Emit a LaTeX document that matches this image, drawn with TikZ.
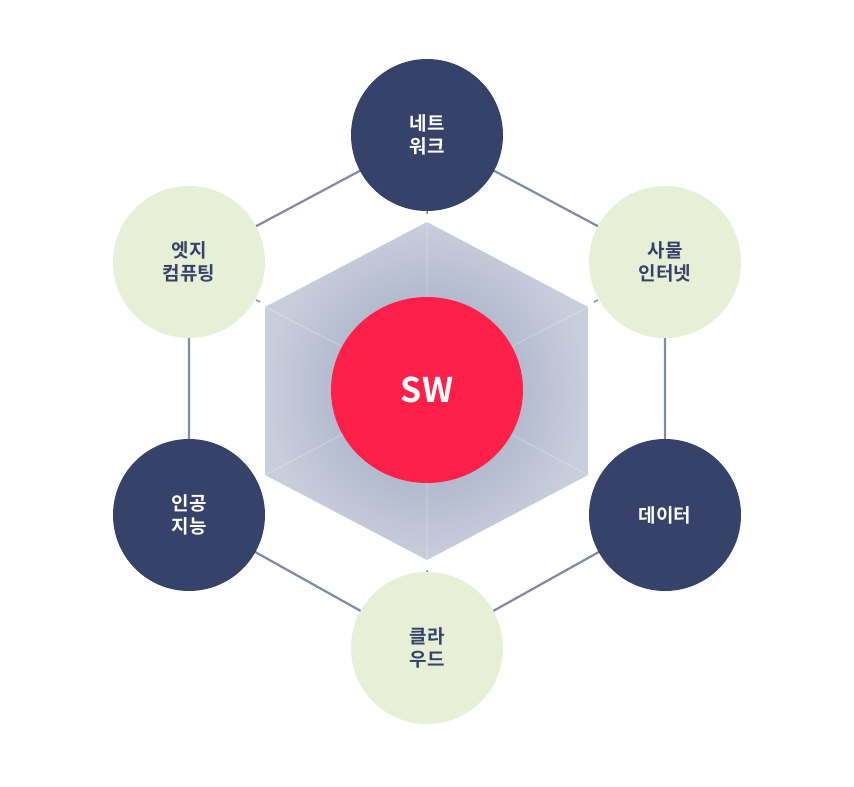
\documentclass[tikz,border=0pt]{standalone}
\usepackage{fontspec}
\usetikzlibrary{shapes.geometric,backgrounds}
\newfontfamily\kr{Noto Sans CJK KR}[BoldFont={Noto Sans CJK KR Bold}]
\begin{document}
\begin{tikzpicture}[x=1pt,y=-1pt,
  dark/.style={circle,fill=navy,minimum size=152pt,text=white,font=\kr\bfseries\fontsize{19}{23}\selectfont,align=center},
  light/.style={circle,fill=lgreen,minimum size=152pt,text=navy,font=\kr\bfseries\fontsize{19}{23}\selectfont,align=center},
  link/.style={draw=linkc,line width=2.2pt}]
\definecolor{navy}{HTML}{36426A}
\definecolor{lgreen}{HTML}{E7F0D6}
\definecolor{swred}{HTML}{FF2049}
\definecolor{linkc}{HTML}{7F89A8}
\definecolor{hexo}{HTML}{C9CEDD}
\definecolor{hexi}{HTML}{98A1BC}
\useasboundingbox (0,0) rectangle (854,787);
\coordinate (h1) at (427,222); \coordinate (h2) at (588,307); \coordinate (h3) at (588,475);
\coordinate (h4) at (427,560); \coordinate (h5) at (265,475); \coordinate (h6) at (265,307);
\coordinate (hc) at (427,390);
\path[inner color=hexi,outer color=hexo] (h1)--(h2)--(h3)--(h4)--(h5)--(h6)--cycle;
\draw[white,opacity=0.25,line width=1pt] (hc)--(h1) (hc)--(h3) (hc)--(h5) (h2)--(hc) (h4)--(hc) (h6)--(hc);
\draw[linkc,line width=1.5pt] (427,208)--(427,214) (598,300)--(594,302) (256,300)--(260,302) (427,570)--(427,576);
\node[dark] (n1) at (427,135) {네트\\워크};
\node[light] (n2) at (665,262) {사물\\인터넷};
\node[dark] (n3) at (665,515) {데이터};
\node[light] (n4) at (427,648) {클라\\우드};
\node[dark] (n5) at (189,515) {인공\\지능};
\node[light] (n6) at (189,262) {엣지\\컴퓨팅};
\begin{scope}[on background layer]
\path[link] (n1.center)--(n2.center)--(n3.center)--(n4.center)--(n5.center)--(n6.center)--cycle;
\end{scope}
\node[ellipse,fill=swred,minimum width=192pt,minimum height=186pt,text=white,font=\kr\bfseries\fontsize{34}{40}\selectfont] (sw) at (hc) {SW};
\end{tikzpicture}
\end{document}
